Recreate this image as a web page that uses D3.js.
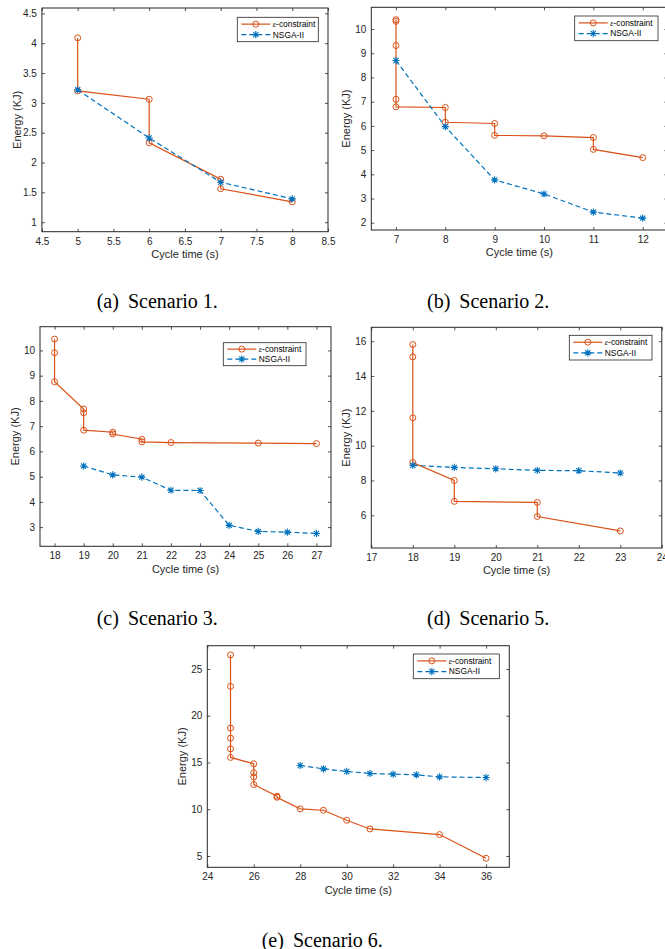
<!DOCTYPE html>
<html>
<head>
<meta charset="utf-8">
<script src="https://cdn.jsdelivr.net/npm/d3@7"></script>
<style>
  body { margin: 0; background: #fff; }
</style>
</head>
<body>
<div id="wrapper"></div>
<script>
// Scenario 1
const s1EpsTime = [5, 5, 6, 6, 7, 7, 8]
const s1EpsEnergy = [4.09, 3.20, 3.06, 2.33, 1.72, 1.56, 1.34]
const s1NsgaTime = [5, 6, 7, 8]
const s1NsgaEnergy = [3.22, 2.41, 1.67, 1.39]
const s1XTicks = [4.5, 5, 5.5, 6, 6.5, 7, 7.5, 8, 8.5]
const s1YTicks = [1, 1.5, 2, 2.5, 3, 3.5, 4, 4.5]

// Scenario 2
const s2EpsTime = [7, 7, 7, 7, 7, 8, 8, 9, 9, 10, 11, 11, 12]
const s2EpsEnergy = [10.39, 10.32, 9.32, 7.10, 6.79, 6.76, 6.15, 6.10, 5.61, 5.59, 5.52, 5.03, 4.69]
const s2NsgaTime = [7, 8, 9, 10, 11, 12]
const s2NsgaEnergy = [8.70, 5.97, 3.77, 3.19, 2.44, 2.19]
const s2XTicks = [7, 8, 9, 10, 11, 12]
const s2YTicks = [2, 3, 4, 5, 6, 7, 8, 9, 10]

// Scenario 3
const s3EpsTime = [18, 18, 18, 19, 19, 19, 20, 20, 21, 21, 22, 25, 27]
const s3EpsEnergy = [10.45, 9.91, 8.76, 7.68, 7.53, 6.84, 6.76, 6.69, 6.48, 6.38, 6.35, 6.33, 6.31]
const s3NsgaTime = [19, 20, 21, 22, 23, 24, 25, 26, 27]
const s3NsgaEnergy = [5.42, 5.07, 4.98, 4.46, 4.45, 3.07, 2.83, 2.80, 2.75]
const s3XTicks = [18, 19, 20, 21, 22, 23, 24, 25, 26, 27]
const s3YTicks = [3, 4, 5, 6, 7, 8, 9, 10]

// Scenario 5
const s5EpsTime = [18, 18, 18, 18, 19, 19, 21, 21, 23]
const s5EpsEnergy = [15.81, 15.10, 11.60, 9.03, 8.00, 6.80, 6.74, 5.93, 5.10]
const s5NsgaTime = [18, 19, 20, 21, 22, 23]
const s5NsgaEnergy = [8.87, 8.75, 8.67, 8.58, 8.56, 8.43]
const s5XTicks = [17, 18, 19, 20, 21, 22, 23, 24]
const s5YTicks = [6, 8, 10, 12, 14, 16]

// Scenario 6
const s6EpsTime = [25, 25, 25, 25, 25, 25, 26, 26, 26, 26, 27, 27, 28, 29, 30, 31, 34, 36]
const s6EpsEnergy = [26.5, 23.14, 18.68, 17.6, 16.46, 15.54, 14.86, 13.9, 13.46, 12.64, 11.39, 11.28, 10.04, 9.89, 8.82, 7.89, 7.29, 4.75]
const s6NsgaTime = [28, 29, 30, 31, 32, 33, 34, 36]
const s6NsgaEnergy = [14.68, 14.32, 14.04, 13.82, 13.75, 13.68, 13.46, 13.39]
const s6XTicks = [24, 26, 28, 30, 32, 34, 36]
const s6YTicks = [5, 10, 15, 20, 25]

const captionTags = ['(a)', '(b)', '(c)', '(d)', '(e)']
const captionNames = ['Scenario 1.', 'Scenario 2.', 'Scenario 3.', 'Scenario 5.', 'Scenario 6.']
const seriesNames = ['-constraint', 'NSGA-II']

function drawPlots() {
    const orange = '#D95319'
    const blue = '#0072BD'
    const axisColor = '#262626'
    const sans = "'Liberation Sans', Arial, sans-serif"
    const serif = "'Liberation Serif', 'Times New Roman', serif"

    const panels = [
        { epsX: s1EpsTime, epsY: s1EpsEnergy, nsX: s1NsgaTime, nsY: s1NsgaEnergy,
          xTicks: s1XTicks, yTicks: s1YTicks, xDomain: [4.5, 8.5], yDomain: [0.84, 4.59],
          left: 41.9, right: 328, top: 8, bottom: 231.7,
          legend: { x: 237.3, y: 17.3, w: 81, h: 24.4 },
          caption: { x: 96.7, y: 307.5 } },
        { epsX: s2EpsTime, epsY: s2EpsEnergy, nsX: s2NsgaTime, nsY: s2NsgaEnergy,
          xTicks: s2XTicks, yTicks: s2YTicks, xDomain: [6.5, 12.5], yDomain: [1.7, 10.9],
          left: 371.3, right: 667.4, top: 7.3, bottom: 230,
          legend: { x: 574.7, y: 16, w: 83.3, h: 24.7 },
          caption: { x: 427, y: 307.5 } },
        { epsX: s3EpsTime, epsY: s3EpsEnergy, nsX: s3NsgaTime, nsY: s3NsgaEnergy,
          xTicks: s3XTicks, yTicks: s3YTicks, xDomain: [17.5, 27.5], yDomain: [2.24, 10.94],
          left: 40, right: 331, top: 326.7, bottom: 546.3,
          legend: { x: 223.3, y: 342.7, w: 82.7, h: 23 },
          caption: { x: 96.7, y: 625 } },
        { epsX: s5EpsTime, epsY: s5EpsEnergy, nsX: s5NsgaTime, nsY: s5NsgaEnergy,
          xTicks: s5XTicks, yTicks: s5YTicks, xDomain: [17, 24], yDomain: [4.12, 16.8],
          left: 371.3, right: 661.8, top: 327.3, bottom: 548,
          legend: { x: 569.3, y: 335.3, w: 82.7, h: 24.7 },
          caption: { x: 427, y: 625 } },
        { epsX: s6EpsTime, epsY: s6EpsEnergy, nsX: s6NsgaTime, nsY: s6NsgaEnergy,
          xTicks: s6XTicks, yTicks: s6YTicks, xDomain: [24, 37], yDomain: [3.79, 27.49],
          left: 207.3, right: 509.3, top: 645.7, bottom: 867.3,
          legend: { x: 413.3, y: 654, w: 86, h: 24.7 },
          caption: { x: 261.7, y: 946.5 } },
    ]

    const svg = d3.select('#wrapper')
        .append('svg')
            .attr('width', 665)
            .attr('height', 949)
            .style('display', 'block')

    const asterisk = s => {
        const k = s * 0.72
        return `M${-s},0H${s}M0,${-s}V${s}M${-k},${-k}L${k},${k}M${-k},${k}L${k},${-k}`
    }

    const drawPanel = (p, i) => {
        const xScale = d3.scaleLinear()
            .domain(p.xDomain)
            .range([p.left, p.right])
        const yScale = d3.scaleLinear()
            .domain(p.yDomain)
            .range([p.bottom, p.top])

        const g = svg.append('g')

        // axes, ticks point inward on all four sides
        const fmt = d => d
        g.append('g')
            .attr('transform', `translate(0,${p.bottom})`)
            .call(d3.axisBottom(xScale).tickValues(p.xTicks).tickFormat(fmt)
                .tickSizeInner(-3).tickSizeOuter(0).tickPadding(6))
        g.append('g')
            .attr('transform', `translate(0,${p.top})`)
            .call(d3.axisTop(xScale).tickValues(p.xTicks).tickFormat('')
                .tickSizeInner(-3).tickSizeOuter(0))
        g.append('g')
            .attr('transform', `translate(${p.left},0)`)
            .call(d3.axisLeft(yScale).tickValues(p.yTicks).tickFormat(fmt)
                .tickSizeInner(-3).tickSizeOuter(0).tickPadding(5))
        g.append('g')
            .attr('transform', `translate(${p.right},0)`)
            .call(d3.axisRight(yScale).tickValues(p.yTicks).tickFormat('')
                .tickSizeInner(-3).tickSizeOuter(0))

        g.selectAll('.domain').remove()
        g.selectAll('.tick line').attr('stroke', axisColor).attr('stroke-width', 0.8)
        g.selectAll('.tick text')
            .attr('fill', axisColor)
            .style('font-family', sans)
            .style('font-size', '10px')

        g.append('rect')
            .attr('x', p.left)
            .attr('y', p.top)
            .attr('width', p.right - p.left)
            .attr('height', p.bottom - p.top)
            .attr('fill', 'none')
            .attr('stroke', axisColor)
            .attr('stroke-width', 1)

        // lines
        const lineGenerator = d3.line()
            .x(d => xScale(d[0]))
            .y(d => yScale(d[1]))

        const epsPts = d3.zip(p.epsX, p.epsY)
        const nsPts = d3.zip(p.nsX, p.nsY)

        g.append('path')
            .attr('d', lineGenerator(epsPts))
            .attr('fill', 'none')
            .attr('stroke', orange)
            .attr('stroke-width', 1.2)

        g.selectAll('.eps')
            .data(epsPts)
            .join('circle')
                .attr('cx', d => xScale(d[0]))
                .attr('cy', d => yScale(d[1]))
                .attr('r', 3)
                .attr('fill', 'none')
                .attr('stroke', orange)
                .attr('stroke-width', 1)

        g.append('path')
            .attr('d', lineGenerator(nsPts))
            .attr('fill', 'none')
            .attr('stroke', blue)
            .attr('stroke-width', 1.2)
            .attr('stroke-dasharray', '5,3')

        g.selectAll('.ns')
            .data(nsPts)
            .join('path')
                .attr('transform', d => `translate(${xScale(d[0])},${yScale(d[1])})`)
                .attr('d', asterisk(3.6))
                .attr('fill', 'none')
                .attr('stroke', blue)
                .attr('stroke-width', 1.1)

        // axis titles
        g.append('text')
            .attr('x', (p.left + p.right) / 2)
            .attr('y', p.bottom + 22.5)
            .attr('dy', '0.35em')
            .attr('text-anchor', 'middle')
            .attr('fill', axisColor)
            .style('font-family', sans)
            .style('font-size', '11px')
            .text('Cycle time (s)')

        g.append('text')
            .attr('transform', `translate(${p.left - 25},${(p.top + p.bottom) / 2}) rotate(-90)`)
            .attr('dy', '0.35em')
            .attr('text-anchor', 'middle')
            .attr('fill', axisColor)
            .style('font-family', sans)
            .style('font-size', '11px')
            .text('Energy (KJ)')

        // legend
        const lg = p.legend
        const legend = g.append('g')
        legend.append('rect')
            .attr('x', lg.x)
            .attr('y', lg.y)
            .attr('width', lg.w)
            .attr('height', lg.h)
            .attr('fill', '#fff')
            .attr('stroke', axisColor)
            .attr('stroke-width', 0.8)

        const row1 = lg.y + lg.h * 0.28
        const row2 = lg.y + lg.h * 0.71
        const lx1 = lg.x + 4
        const lx2 = lg.x + 33
        const tx = lg.x + 35.5

        legend.append('line')
            .attr('x1', lx1).attr('x2', lx2).attr('y1', row1).attr('y2', row1)
            .attr('stroke', orange).attr('stroke-width', 1.2)
        legend.append('circle')
            .attr('cx', (lx1 + lx2) / 2).attr('cy', row1).attr('r', 3)
            .attr('fill', 'none').attr('stroke', orange)
        legend.append('line')
            .attr('x1', lx1).attr('x2', lx2).attr('y1', row2).attr('y2', row2)
            .attr('stroke', blue).attr('stroke-width', 1.2)
            .attr('stroke-dasharray', '5,3')
        legend.append('path')
            .attr('transform', `translate(${(lx1 + lx2) / 2},${row2})`)
            .attr('d', asterisk(3.6))
            .attr('fill', 'none').attr('stroke', blue).attr('stroke-width', 1.1)

        const t1 = legend.append('text')
            .attr('x', tx).attr('y', row1).attr('dy', '0.35em')
            .attr('fill', '#000')
            .style('font-family', sans)
            .style('font-size', '8.4px')
        t1.append('tspan')
            .style('font-family', serif)
            .style('font-style', 'italic')
            .text('\u03B5')
        t1.append('tspan').text(seriesNames[0])

        legend.append('text')
            .attr('x', tx).attr('y', row2).attr('dy', '0.35em')
            .attr('fill', '#000')
            .style('font-family', sans)
            .style('font-size', '8.4px')
            .text(seriesNames[1])

        // caption
        const cap = svg.append('text')
            .attr('x', p.caption.x)
            .attr('y', p.caption.y)
            .attr('fill', '#000')
            .style('font-family', serif)
            .style('font-size', '20px')
        cap.append('tspan').text(captionTags[i])
        cap.append('tspan').attr('dx', 9).text(captionNames[i])
    }

    panels.forEach(drawPanel)
}
drawPlots()
</script>
</body>
</html>
